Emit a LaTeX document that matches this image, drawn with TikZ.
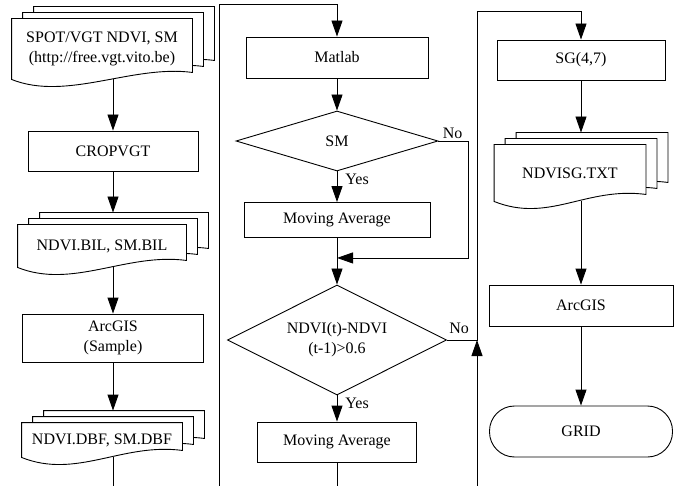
\documentclass[tikz,border=0pt]{standalone}
\usepackage{fontspec}
\setmainfont{Liberation Serif}
\usetikzlibrary{arrows.meta,positioning,shapes.geometric,backgrounds}

\begin{document}
\begin{tikzpicture}[
	x=1pt, y=-1pt,
	>={Triangle[length=16pt,width=11pt]},
	line width=0.9pt,
	node distance=90pt,
	on grid,
	align=center,
	font=\fontsize{16}{20}\selectfont,
	process/.style={
		rectangle,
		draw,
		minimum height=40pt
	},
	decision/.style={
		diamond,
		draw,
		aspect=2,
		inner sep=0pt
	},
	docs/.style={
		rectangle,
		inner sep=0pt
	},
	terminal/.style={
		rectangle,
		rounded corners=25pt,
		draw
	},
	sheet/.style={
		draw,
		fill=white,
		line width=0.9pt
	},
	lbl/.style={inner sep=2pt}
	]

   \useasboundingbox (0,0) rectangle (674,486);
   \coordinate (cut) at (0,486);
   \coordinate (bus1) at (219,486);
   \coordinate (bus2) at (477,486);

   % left column
   \node[docs, minimum width=180pt, minimum height=60pt] (spot) at (102,49) {SPOT/VGT NDVI, SM\\(http://free.vgt.vito.be)};
   \node[process, minimum width=170pt, below=102pt of spot, xshift=11pt] (crop) {CROPVGT};
   \node[docs, minimum width=168pt, minimum height=42pt, below=95pt of crop, xshift=-11pt] (bil) {NDVI.BIL, SM.BIL};
   \node[process, minimum width=181pt, minimum height=48pt, below=92pt of bil, xshift=11pt] (arc1) {ArcGIS\\(Sample)};
   \node[docs, minimum width=160pt, minimum height=34pt, below=102pt of arc1, xshift=-11pt] (dbf) {NDVI.DBF, SM.DBF};

   % middle column
   \node[process, minimum width=182pt, minimum height=41pt] (matlab) at (337,57.5) {Matlab};
   \node[decision, minimum width=202pt, minimum height=60pt, below=83.5pt of matlab] (sm) {SM};
   \node[process, minimum width=186pt, minimum height=35pt, below=79pt of sm] (ma1) {Moving Average};
   \node[decision, minimum width=219pt, minimum height=110pt, below=120pt of ma1] (ndvi) {NDVI(t)-NDVI\\(t-1)>0.6};
   \node[process, minimum width=159pt, minimum height=40pt, below=102pt of ndvi] (ma2) {Moving Average};

   % right column
   \node[process, minimum width=168pt, minimum height=40pt] (sg) at (581,60) {SG(4,7)};
   \node[docs, minimum width=151pt, minimum height=56pt, below=113pt of sg, xshift=-11pt] (sgtxt) {NDVISG.TXT};
   \node[process, minimum width=184pt, minimum height=41pt, below=132.5pt of sgtxt, xshift=11pt] (arc2) {ArcGIS};
   \node[terminal, minimum width=183pt, minimum height=51pt, below=126pt of arc2] (grid) {GRID};

   % stacked documents
   \begin{scope}[on background layer]
   \foreach \d in {spot,bil,dbf,sgtxt} {
     \foreach \k in {2,1,0}
       \draw[sheet] ([xshift=11*\k pt, yshift=6*\k pt]\d.north west)
         -- ([xshift=11*\k pt, yshift=6*\k pt]\d.south west)
         .. controls +(55pt,-22pt) and +(-60pt,8pt) .. ([xshift=11*\k pt, yshift=6*\k pt+7pt]\d.south east)
         -- ([xshift=11*\k pt, yshift=6*\k pt]\d.north east) -- cycle;
     \coordinate (\d-in) at ([xshift=11pt,yshift=12pt]\d.north);
     \coordinate (\d-out) at ([xshift=11pt]\d.south);
   }
   \end{scope}

   \draw[->] (spot-out) -- (crop);
   \draw[->] (crop) -- (bil-in);
   \draw[->] (bil-out) -- (arc1);
   \draw[->] (arc1) -- (dbf-in);
   \draw (dbf-out) -- (dbf-out |- cut);

   \draw[->] (bus1) |- ([yshift=32pt]matlab.north) -- (matlab);
   \draw[->] (matlab) -- (sm);
   \draw[->] (sm) -- node[lbl, anchor=north west, pos=0, xshift=6pt] {Yes} (ma1);
   \draw[->] (sm.east) -- node[lbl, anchor=south west, pos=0, xshift=2pt] {No} ++(30pt,0) |- ([yshift=-20pt]ma1.south);
   \draw[->] (ma1) -- (ndvi);
   \draw[->] (ndvi) -- node[lbl, anchor=north west, pos=0, xshift=6pt] {Yes} (ma2);
   \draw[->] (ndvi.east) -- node[lbl, anchor=south west, pos=0, yshift=4pt] {No} ++(30pt,0) |- ([yshift=28pt]sg.north) -- (sg);
   \draw (ma2) -- (ma2 |- cut);
   \draw[->] (bus2) -- (bus2 |- ndvi.east);

   \draw[->] (sg) -- (sgtxt-in);
   \draw[->] (sgtxt-out) -- (arc2);
   \draw[->] (arc2) -- (grid);
\end{tikzpicture}
\end{document}
